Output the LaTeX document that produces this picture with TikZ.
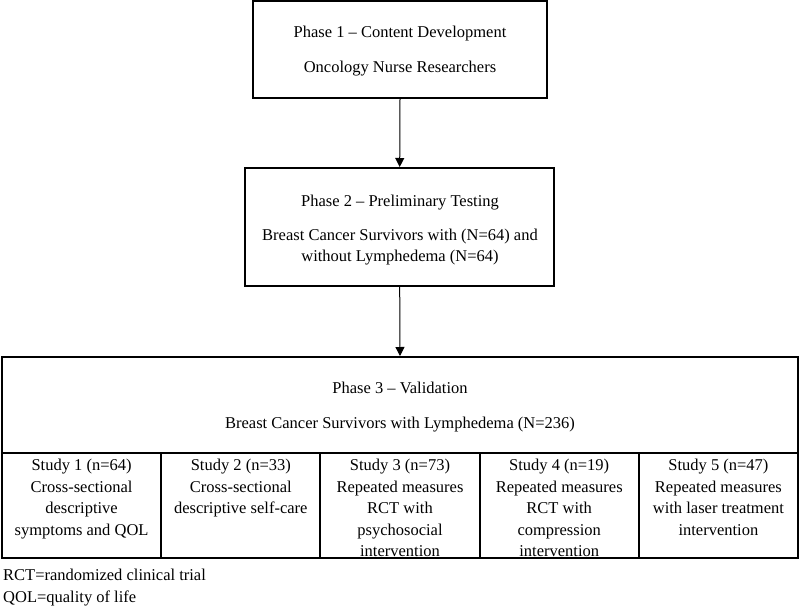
\documentclass[tikz,border=0pt]{standalone}
\usepackage{fontspec}
\setmainfont{Liberation Serif}
\usetikzlibrary{arrows.meta}
\begin{document}
\begin{tikzpicture}[x=1pt,y=-1pt,
  box/.style={draw, line width=2pt, inner sep=0},
  txt/.style={font=\fontsize{16.5}{21.5}\selectfont, inner sep=0, anchor=base},
  note/.style={font=\fontsize{16.5}{21.5}\selectfont, inner sep=0, anchor=base west},
  cell/.style={font=\fontsize{16.5}{21.5}\selectfont, inner sep=0, anchor=north, align=center},
  conn/.style={line width=1pt, -{Triangle[width=9pt,length=9pt]}}]
\useasboundingbox (0,0) rectangle (800,605);
% boxes
\node[box, minimum width=294.6pt, minimum height=96.7pt] (p1) at (400,49.3) {};
\node[box, minimum width=309.3pt, minimum height=118pt] (p2) at (399.7,227) {};
\node[box, minimum width=796pt, minimum height=96pt] (p3) at (400,405) {};
\node[box, minimum width=159.2pt, minimum height=105pt] (s1) at (81.6,505.5) {};
\node[box, minimum width=159.2pt, minimum height=105pt] (s2) at (240.8,505.5) {};
\node[box, minimum width=159.2pt, minimum height=105pt] (s3) at (400,505.5) {};
\node[box, minimum width=159.2pt, minimum height=105pt] (s4) at (559.2,505.5) {};
\node[box, minimum width=159.2pt, minimum height=105pt] (s5) at (718.4,505.5) {};
% connectors
\draw[conn] (p1.south) -- (p2.north);
\draw[conn] (p2.south) -- (p3.north);
% texts
\node[txt] (t1a) at (400,37.5) {Phase 1 – Content Development};
\node[txt] (t1b) at (400,72.5) {Oncology Nurse Researchers};
\node[txt] (t2a) at (400,206.5) {Phase 2 – Preliminary Testing};
\node[txt] (t2b) at (400,240.5) {Breast Cancer Survivors with (N=64) and};
\node[txt] (t2c) at (400,261.5) {without Lymphedema (N=64)};
\node[txt] (t3a) at (400,393.5) {Phase 3 – Validation};
\node[txt] (t3b) at (400,428.5) {Breast Cancer Survivors with Lymphedema (N=236)};
\node[cell] (c1) at (81.6,455.5) {\strut Study 1 (n=64)\\Cross-sectional\\descriptive\\symptoms and QOL};
\node[cell] (c2) at (240.8,455.5) {\strut Study 2 (n=33)\\Cross-sectional\\descriptive self-care};
\node[cell] (c3) at (400,455.5) {\strut Study 3 (n=73)\\Repeated measures\\RCT with\\psychosocial\\intervention};
\node[cell] (c4) at (559.2,455.5) {\strut Study 4 (n=19)\\Repeated measures\\RCT with\\compression\\intervention};
\node[cell] (c5) at (718.4,455.5) {\strut Study 5 (n=47)\\Repeated measures\\with laser treatment\\intervention};
\node[note] (n1) at (3,580.5) {RCT=randomized clinical trial};
\node[note] (n2) at (3,602) {QOL=quality of life};
\end{tikzpicture}
\end{document}
